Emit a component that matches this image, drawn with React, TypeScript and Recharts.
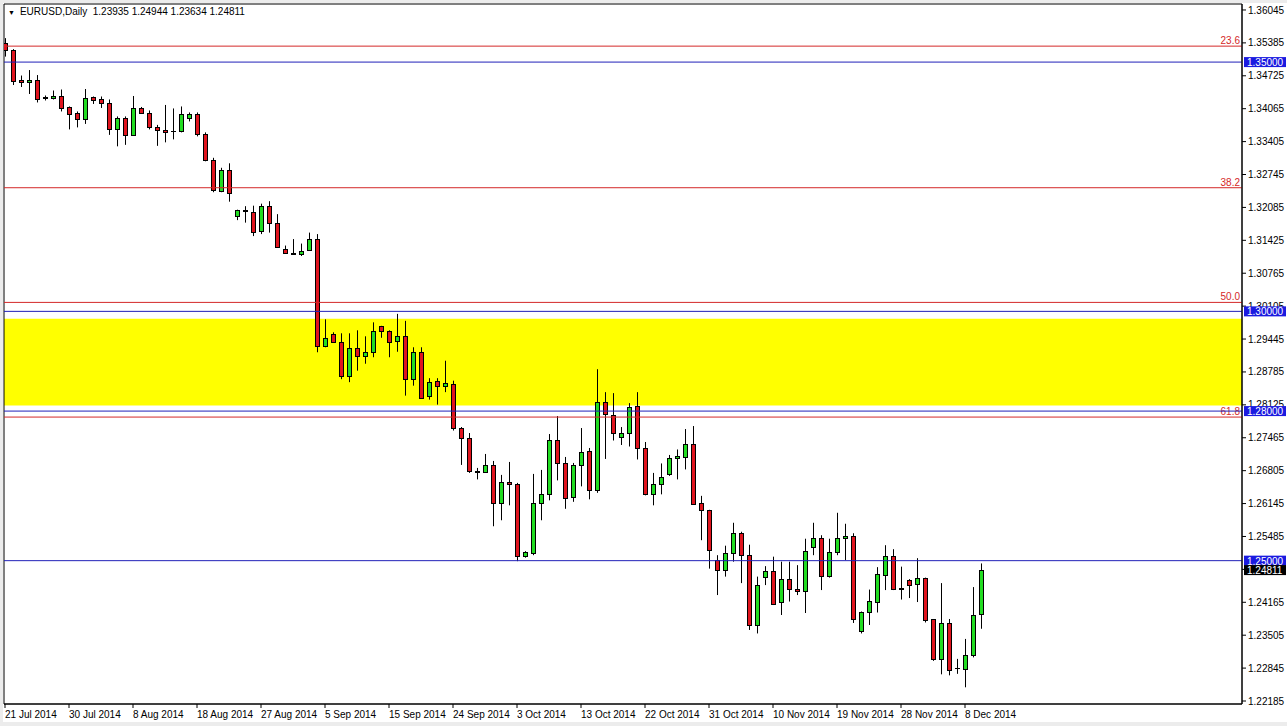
import React from "react";
import {
  ComposedChart,
  Bar,
  XAxis,
  YAxis,
  ReferenceLine,
  ReferenceArea,
} from "recharts";

const FONT = "'Liberation Sans', Arial, sans-serif";

// EURUSD daily, 21 Jul 2014 .. 10 Dec 2014 (broker shows Sunday bars)
const opens = [
  1.3538, 1.3524, 1.3465, 1.3460, 1.3465, 1.3428, 1.3427, 1.3432, 1.3409, 1.3397,
  1.3386, 1.3429, 1.3425, 1.3418, 1.3366, 1.3387, 1.3353, 1.3407, 1.3398, 1.3370,
  1.3364, 1.3361, 1.3361, 1.3388, 1.3395, 1.3356, 1.3304, 1.3241, 1.3283, 1.3191,
  1.3204, 1.3200, 1.3161, 1.3212, 1.3178, 1.3126, 1.3117, 1.3116, 1.3123, 1.3146,
  1.2931, 1.2954, 1.2938, 1.2871, 1.2926, 1.2911, 1.2918, 1.2970, 1.2961, 1.2941,
  1.2950, 1.2864, 1.2918, 1.2830, 1.2860, 1.2850, 1.2855, 1.2766, 1.2746, 1.2679,
  1.2678, 1.2691, 1.2616, 1.2658, 1.2654, 1.2510, 1.2516, 1.2616, 1.2634, 1.2743,
  1.2696, 1.2628, 1.2691, 1.2720, 1.2641, 1.2818, 1.2793, 1.2748, 1.2756, 1.2810,
  1.2725, 1.2634, 1.2653, 1.2673, 1.2705, 1.2708, 1.2734, 1.2616, 1.2601, 1.2501,
  1.2481, 1.2516, 1.2556, 1.2512, 1.2370, 1.2468, 1.2480, 1.2418, 1.2464, 1.2444,
  1.2439, 1.2528, 1.2546, 1.2469, 1.2518, 1.2546, 1.2550, 1.2359, 1.2397, 1.2418,
  1.2471, 1.2509, 1.2445, 1.2462, 1.2453, 1.2465, 1.2382, 1.2303, 1.2374, 1.2285,
  1.2283, 1.2310, 1.23935,
];
const highs = [
  1.3548, 1.3526, 1.3473, 1.3484, 1.3474, 1.3433, 1.3443, 1.3445, 1.3411, 1.3401,
  1.3446, 1.3431, 1.3431, 1.3425, 1.3391, 1.3391, 1.3432, 1.3410, 1.3403, 1.3374,
  1.3414, 1.3407, 1.3411, 1.3399, 1.3399, 1.3359, 1.3308, 1.3288, 1.3297, 1.3204,
  1.3211, 1.3212, 1.3216, 1.3221, 1.3195, 1.3132, 1.3145, 1.3136, 1.3158, 1.3155,
  1.2984, 1.2958, 1.2956, 1.2956, 1.2962, 1.2950, 1.2978, 1.2971, 1.2962, 1.2995,
  1.2981, 1.2928, 1.2928, 1.2866, 1.2866, 1.2901, 1.2861, 1.2768, 1.2756, 1.2686,
  1.2714, 1.2700, 1.2672, 1.2698, 1.2656, 1.2519, 1.2674, 1.2682, 1.2754, 1.2790,
  1.2708, 1.2696, 1.2766, 1.2726, 1.2884, 1.2838, 1.2836, 1.2768, 1.2816, 1.2838,
  1.2738, 1.2676, 1.2695, 1.2712, 1.2723, 1.2764, 1.2770, 1.2630, 1.2602, 1.2511,
  1.2530, 1.2576, 1.2558, 1.2532, 1.2468, 1.2489, 1.2508, 1.2498, 1.2498, 1.2491,
  1.2544, 1.2576, 1.2551, 1.2544, 1.2596, 1.2574, 1.2555, 1.2398, 1.2442, 1.2487,
  1.2531, 1.2523, 1.2488, 1.2463, 1.2505, 1.2466, 1.2383, 1.2455, 1.2383, 1.2303,
  1.2343, 1.2447, 1.24944,
];
const lows = [
  1.3511, 1.3454, 1.3450, 1.3436, 1.3419, 1.3423, 1.3425, 1.3401, 1.3365, 1.3369,
  1.3376, 1.3416, 1.3408, 1.3354, 1.3331, 1.3334, 1.3353, 1.3396, 1.3365, 1.3332,
  1.3339, 1.3345, 1.3359, 1.3381, 1.3351, 1.3301, 1.3239, 1.3239, 1.3220, 1.3183,
  1.3178, 1.3151, 1.3155, 1.3158, 1.3128, 1.3117, 1.3115, 1.3111, 1.3123, 1.2918,
  1.2928, 1.2937, 1.2864, 1.2858, 1.2881, 1.2895, 1.2908, 1.2947, 1.2908, 1.2919,
  1.2831, 1.2851, 1.2825, 1.2823, 1.2813, 1.2838, 1.2761, 1.2692, 1.2676, 1.2663,
  1.2678, 1.2569, 1.2581, 1.2611, 1.2499, 1.2506, 1.2511, 1.2581, 1.2621, 1.2661,
  1.2604, 1.2618, 1.2649, 1.2623, 1.2636, 1.2704, 1.2741, 1.2732, 1.2729, 1.2703,
  1.2631, 1.2611, 1.2633, 1.2670, 1.2663, 1.2683, 1.2613, 1.2541, 1.2484, 1.2431,
  1.2468, 1.2498, 1.2455, 1.2361, 1.2354, 1.2451, 1.2411, 1.2391, 1.2418, 1.2431,
  1.2395, 1.2511, 1.2441, 1.2466, 1.2511, 1.2501, 1.2375, 1.2354, 1.2371, 1.2396,
  1.2441, 1.2441, 1.2422, 1.2425, 1.2417, 1.2376, 1.2299, 1.2272, 1.2270, 1.2273,
  1.2246, 1.2306, 1.23634,
];
const closes = [
  1.3524, 1.3463, 1.3460, 1.3465, 1.3426, 1.3429, 1.3432, 1.3408, 1.3396, 1.3386,
  1.3428, 1.3424, 1.3418, 1.3366, 1.3387, 1.3353, 1.3408, 1.3398, 1.3369, 1.3363,
  1.3360, 1.3362, 1.3396, 1.3395, 1.3355, 1.3303, 1.3243, 1.3283, 1.3238, 1.3203,
  1.3202, 1.3160, 1.3212, 1.3178, 1.3130, 1.3118, 1.3116, 1.3122, 1.3146, 1.2931,
  1.2947, 1.2938, 1.2871, 1.2926, 1.2911, 1.2918, 1.2960, 1.2961, 1.2939, 1.2950,
  1.2864, 1.2918, 1.2827, 1.2858, 1.2850, 1.2856, 1.2766, 1.2746, 1.2679, 1.2678,
  1.2691, 1.2616, 1.2658, 1.2654, 1.2510, 1.2518, 1.2616, 1.2634, 1.2743, 1.2696,
  1.2626, 1.2691, 1.2718, 1.2641, 1.2818, 1.2794, 1.2756, 1.2756, 1.2808, 1.2725,
  1.2634, 1.2653, 1.2667, 1.2705, 1.2709, 1.2734, 1.2614, 1.2601, 1.2521, 1.2481,
  1.2516, 1.2556, 1.2511, 1.2370, 1.2452, 1.2480, 1.2414, 1.2464, 1.2443, 1.2439,
  1.2520, 1.2546, 1.2469, 1.2518, 1.2546, 1.2550, 1.2383, 1.2397, 1.2419, 1.2473,
  1.2509, 1.2443, 1.2444, 1.2451, 1.2465, 1.2381, 1.2303, 1.2374, 1.2281, 1.2284,
  1.2310, 1.2392, 1.24811,
];

// a date label every 8 bars
const dateLabels = [
  "21 Jul 2014", "30 Jul 2014", "8 Aug 2014", "18 Aug 2014", "27 Aug 2014",
  "5 Sep 2014", "15 Sep 2014", "24 Sep 2014", "3 Oct 2014", "13 Oct 2014",
  "22 Oct 2014", "31 Oct 2014", "10 Nov 2014", "19 Nov 2014", "28 Nov 2014",
  "8 Dec 2014",
];
const labelEvery = 8;

const priceTicks = [
  1.36045, 1.35385, 1.34725, 1.34065, 1.33405, 1.32745, 1.32085, 1.31425,
  1.30765, 1.30105, 1.29445, 1.28785, 1.28125, 1.27465, 1.26805, 1.26145,
  1.25485, 1.24825, 1.24165, 1.23505, 1.22845, 1.22185,
];

const roundLevels = [1.35, 1.3, 1.28, 1.25];
const fibNames = ["23.6", "38.2", "50.0", "61.8"];
const fibPrices = [1.3532, 1.3248, 1.3018, 1.2788];
const zoneLow = 1.2811;
const zoneHigh = 1.2985;
const lastPrice = 1.24811;

const header = "EURUSD,Daily  1.23935 1.24944 1.23634 1.24811";

// visible window (chart shift leaves empty slots on the right)
const slotDomain: [number, number] = [-0.125, 154.625];
const priceDomain: [number, number] = [1.22125, 1.36165];

const W = 1287;
const H = 726;
const MARGIN = { top: 4, right: 0, bottom: 0, left: 4 };
const AXIS_W = 45;
const AXIS_H = 22;

const BULL = "#22dd22";
const BEAR = "#e0141e";
const BLUE_LINE = "#2020b8";
const RED_LINE = "#d42828";
const TAG_BLUE = "#1a1ae0";

const rows = opens.map((o, i) => ({
  slot: i,
  open: o,
  high: highs[i],
  low: lows[i],
  close: closes[i],
  range: [lows[i], highs[i]],
}));

const tickSlots = dateLabels.map((_, i) => i * labelEvery);

function Candle(props: any) {
  const { x, y, width, height, payload } = props;
  if (x == null || y == null || !payload) return null;
  const top = Math.min(y, y + height);
  const span = Math.abs(height);
  const { open, high, low, close } = payload;
  const toY = (v: number) =>
    high > low ? top + ((high - v) / (high - low)) * span : top;
  const cx = Math.round(x + width / 2) + 0.5;
  const bTop = Math.round(toY(Math.max(open, close))) + 0.5;
  const bBot = Math.round(toY(Math.min(open, close))) + 0.5;
  return (
    <g>
      <line x1={cx} x2={cx} y1={top} y2={top + span} stroke="#000" strokeWidth={1} />
      {bBot - bTop < 1 ? (
        <line x1={cx - 2.5} x2={cx + 2.5} y1={bTop} y2={bTop} stroke="#000" strokeWidth={1} />
      ) : (
        <rect
          x={cx - 2}
          y={bTop}
          width={4}
          height={bBot - bTop}
          fill={close >= open ? BULL : BEAR}
          stroke="#000"
          strokeWidth={1}
        />
      )}
    </g>
  );
}

function DateTick(props: any) {
  const { x, y, payload } = props;
  const label = dateLabels[Math.round(payload.value / labelEvery)];
  return (
    <text x={x} y={y + 8} textAnchor="start" fontSize={10} fontFamily={FONT} fill="#000">
      {label}
    </text>
  );
}

function PriceTag(props: any) {
  const { viewBox, text, bg } = props;
  if (!viewBox) return null;
  const x = viewBox.x + viewBox.width + 2;
  const y = viewBox.y;
  return (
    <g>
      <rect x={x} y={y - 5} width={42} height={10} fill={bg} />
      <text x={x + 3} y={y + 4} fontSize={10} fontFamily={FONT} fill="#fff">
        {text}
      </text>
    </g>
  );
}

function FibLabel(props: any) {
  const { viewBox, text } = props;
  if (!viewBox) return null;
  return (
    <text
      x={viewBox.x + viewBox.width - 2}
      y={viewBox.y - 2}
      textAnchor="end"
      fontSize={10}
      fontFamily={FONT}
      fill={RED_LINE}
    >
      {text}
    </text>
  );
}

// second chart with the same geometry, only to put the price tags above the axis text
function TagLayer() {
  return (
    <ComposedChart width={W} height={H} data={rows} margin={MARGIN}>
      <XAxis
        xAxisId="t"
        dataKey="slot"
        type="number"
        domain={slotDomain}
        allowDataOverflow
        height={AXIS_H}
        tick={false}
        tickLine={false}
        axisLine={false}
      />
      <YAxis
        yAxisId="p"
        orientation="right"
        type="number"
        domain={priceDomain}
        allowDataOverflow
        width={AXIS_W}
        tick={false}
        tickLine={false}
        axisLine={false}
      />
      {roundLevels.map((p) => (
        <ReferenceLine
          key={"t" + p}
          xAxisId="t"
          yAxisId="p"
          y={p}
          stroke="none"
          label={<PriceTag text={p.toFixed(5)} bg={TAG_BLUE} />}
        />
      ))}
      <ReferenceLine
        xAxisId="t"
        yAxisId="p"
        y={lastPrice}
        stroke="none"
        label={<PriceTag text={lastPrice.toFixed(5)} bg="#000" />}
      />
    </ComposedChart>
  );
}

export default function App() {
  return (
    <div
      style={{
        position: "absolute",
        left: 0,
        top: 0,
        width: W,
        height: H,
        background: "#ececec",
        fontFamily: FONT,
        overflow: "hidden",
      }}
    >
      <div
        style={{
          position: "absolute",
          left: 3,
          top: 3,
          width: 1284,
          height: 719,
          background: "#fff",
        }}
      />
      <div style={{ position: "absolute", left: 0, top: 0 }}>
        <ComposedChart width={W} height={H} data={rows} margin={MARGIN}>
          <XAxis
            xAxisId="t"
            dataKey="slot"
            type="number"
            domain={slotDomain}
            allowDataOverflow
            ticks={tickSlots}
            interval={0}
            tick={<DateTick />}
            tickSize={4}
            height={AXIS_H}
            axisLine={{ stroke: "#000" }}
            tickLine={{ stroke: "#000" }}
          />
          <YAxis
            yAxisId="p"
            orientation="right"
            type="number"
            domain={priceDomain}
            allowDataOverflow
            ticks={priceTicks}
            interval={0}
            width={AXIS_W}
            tickSize={4}
            tickMargin={2}
            tickFormatter={(v: number) => v.toFixed(5)}
            tick={{ fontSize: 10, fontFamily: FONT, fill: "#000" }}
            axisLine={{ stroke: "#000" }}
            tickLine={{ stroke: "#000" }}
          />
          <ReferenceArea
            xAxisId="t"
            yAxisId="p"
            y1={zoneLow}
            y2={zoneHigh}
            fill="#ffff00"
            fillOpacity={1}
            stroke="none"
          />
          {fibPrices.map((p, i) => (
            <ReferenceLine
              key={"f" + i}
              xAxisId="t"
              yAxisId="p"
              y={p}
              stroke={RED_LINE}
              strokeWidth={1}
              label={<FibLabel text={fibNames[i]} />}
            />
          ))}
          {roundLevels.map((p) => (
            <ReferenceLine
              key={"r" + p}
              xAxisId="t"
              yAxisId="p"
              y={p}
              stroke={BLUE_LINE}
              strokeWidth={1}
            />
          ))}
          <Bar
            xAxisId="t"
            yAxisId="p"
            dataKey="range"
            barSize={5}
            shape={<Candle />}
            isAnimationActive={false}
          />
          <ReferenceArea
            xAxisId="t"
            yAxisId="p"
            x1={slotDomain[0]}
            x2={slotDomain[1]}
            y1={priceDomain[0]}
            y2={priceDomain[1]}
            fill="none"
            stroke="#000"
            strokeWidth={1}
          />
        </ComposedChart>
      </div>
      <div style={{ position: "absolute", left: 0, top: 0, pointerEvents: "none" }}>
        <TagLayer />
      </div>
      <div
        style={{
          position: "absolute",
          left: 8,
          top: 6,
          fontSize: 10,
          lineHeight: "12px",
          color: "#000",
          whiteSpace: "pre",
        }}
      >
        <span style={{ fontSize: 7, marginRight: 5 }}>▼</span>
        {header}
      </div>
    </div>
  );
}
